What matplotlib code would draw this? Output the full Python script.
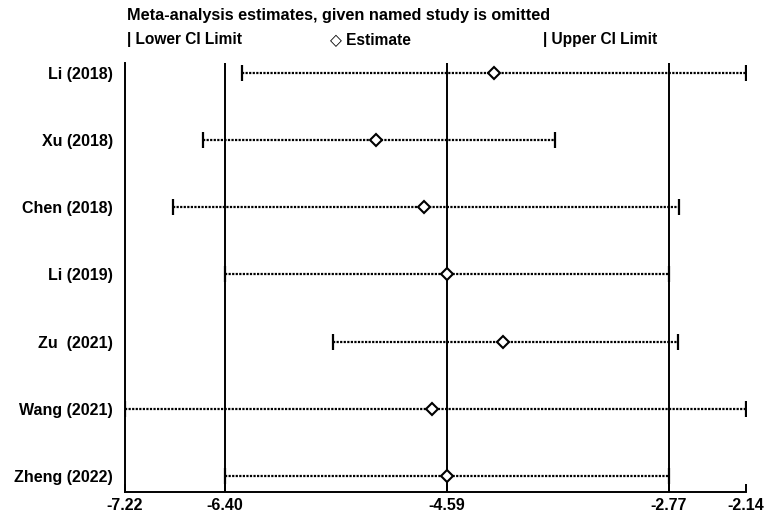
import matplotlib.pyplot as plt
from matplotlib import font_manager

# studies omitted one at a time, with the pooled estimate and its CI
studies = ['Li (2018)', 'Xu (2018)', 'Chen (2018)', 'Li (2019)',
           'Zu  (2021)', 'Wang (2021)', 'Zheng (2022)']
lower = [-6.26, -6.58, -6.83, -6.40, -5.52, -7.22, -6.40]
estimate = [-4.20, -5.17, -4.77, -4.59, -4.13, -4.71, -4.59]
upper = [-2.14, -3.70, -2.69, -2.77, -2.70, -2.14, -2.77]

ticks = [-7.22, -6.40, -4.59, -2.77, -2.14]
tick_labels = ['-7.22', '-6.40', '-4.59', '-2.77', '-2.14']

names = {f.name for f in font_manager.fontManager.ttflist}
fam = 'Liberation Sans Narrow' if 'Liberation Sans Narrow' in names else 'Liberation Sans'
plt.rcParams['font.family'] = [fam, 'DejaVu Sans']

fig = plt.figure(figsize=(7.69, 5.18), dpi=100)
ax = fig.add_axes([125 / 769, 26 / 518, 621 / 769, 429 / 518])

# reference lines at the overall estimate and CI
for v in ticks[1:4]:
    ax.axvline(v, color='black', lw=1.4, zorder=1)

rows = list(range(len(studies)))
for i in rows:
    ax.plot([lower[i], upper[i]], [i, i], color='black', lw=1.6,
            linestyle=(0, (1, 0.6)), zorder=2)
ax.plot(lower, rows, linestyle='none', marker='|', ms=11, mew=1.6,
        color='black', zorder=3)
ax.plot(upper, rows, linestyle='none', marker='|', ms=11, mew=1.6,
        color='black', zorder=3)
ax.plot(estimate, rows, linestyle='none', marker='D', ms=6.5, mew=1.5,
        mfc='white', mec='black', zorder=4)

ax.set_xlim(ticks[0], ticks[-1])
ax.set_ylim(6.24, -0.15)
ax.set_yticks(rows)
ax.set_yticklabels(studies, fontsize=11.5, fontweight='bold')
ax.set_xticks(ticks)
ax.set_xticklabels(tick_labels, fontsize=11.5, fontweight='bold')
ax.tick_params(axis='y', length=0, pad=8.5)
ax.tick_params(axis='x', direction='in', length=6, width=1.4, pad=4)

for s in ['top', 'right']:
    ax.spines[s].set_visible(False)
ax.spines['left'].set_linewidth(1.4)
ax.spines['bottom'].set_linewidth(1.4)

fig.text(127 / 769, 1 - 20 / 518, 'Meta-analysis estimates, given named study is omitted',
         fontsize=11.7, fontweight='bold', va='baseline')
legend_y = 1 - 44 / 518
fig.text(127 / 769, legend_y, '| Lower CI Limit', fontsize=11.2,
         fontweight='bold', va='baseline')
fig.text(330 / 769, legend_y, '◇ Estimate', fontsize=11.2,
         fontweight='bold', va='baseline')
fig.text(543 / 769, legend_y, '| Upper CI Limit', fontsize=11.2,
         fontweight='bold', va='baseline')

fig.savefig('out.png', dpi=100)
